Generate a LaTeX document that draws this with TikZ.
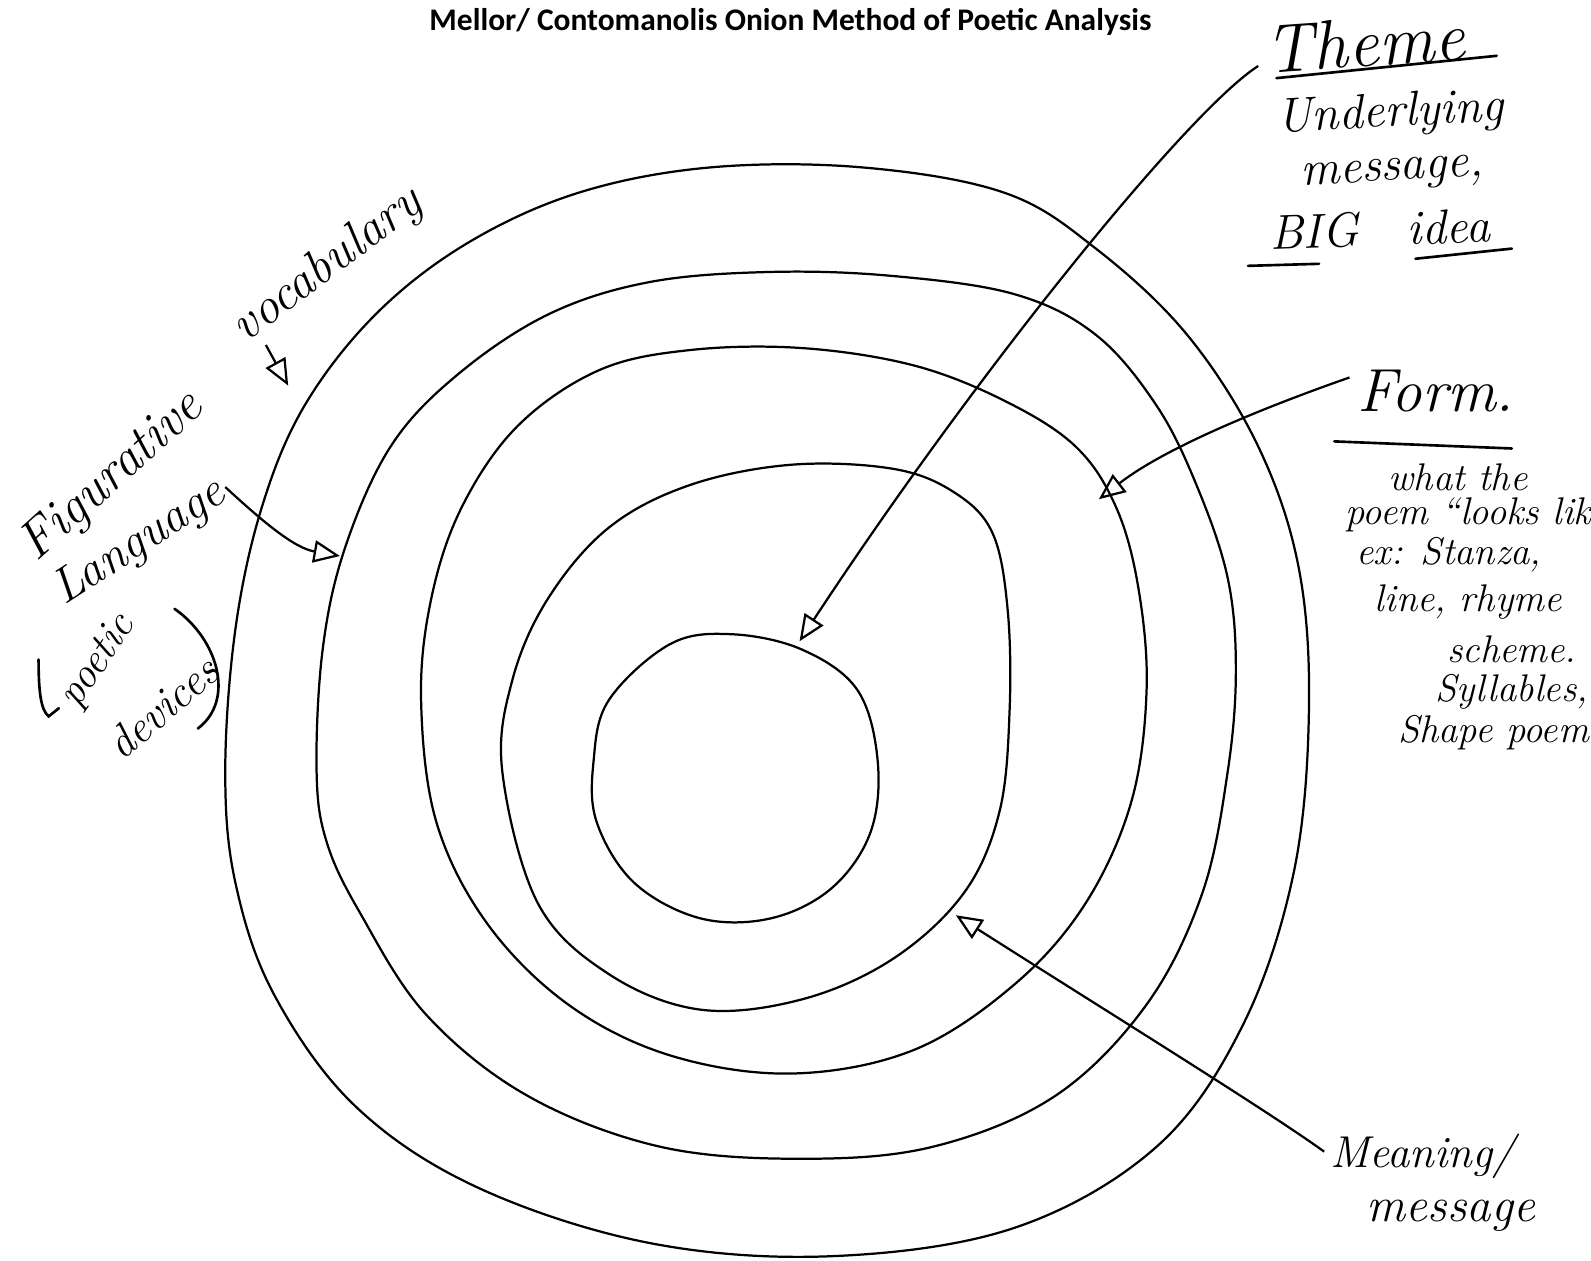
\documentclass[tikz,border=0pt]{standalone}
\usepackage{fontspec}
\newfontfamily\titlefont{Carlito}
\usetikzlibrary{arrows.meta}
\newcommand{\hsz}[1]{\fontsize{#1}{#1}\selectfont}
\begin{document}
\begin{tikzpicture}[x=0.5pt,y=-0.5pt,
  ring/.style={line width=1.1pt, line join=round},
  hand/.style={font=\itshape, inner sep=0pt, anchor=center},
  pointer/.style={line width=1.1pt, -{Triangle[open,length=13pt,width=11pt,line width=1.1pt]}},
  uline/.style={line width=1.3pt, line cap=round}]
\useasboundingbox[fill=white] (0,0) rectangle (1568,1242);

% title
\node[font=\titlefont\bfseries\fontsize{15.5}{15.5}\selectfont, inner sep=0pt] (title) at (779,22)
  {Mellor/ Contomanolis Onion Method of Poetic Analysis};

% rings
\draw[ring] plot[smooth cycle, tension=0.6] coordinates {
 (222,760) (232,620) (258,500) (300,400) (370,310) (460,240) (570,190) (700,165) (850,165)
 (990,190) (1080,245) (1170,330) (1240,440) (1280,560) (1290,700) (1275,860) (1225,1010)
 (1140,1130) (1000,1210) (820,1238) (640,1225) (470,1170) (350,1090) (270,980) (232,870)};
\draw[ring] plot[smooth cycle, tension=0.6] coordinates {
 (312,760) (318,640) (340,540) (385,440) (450,370) (540,310) (640,278) (760,268) (880,272)
 (1000,290) (1080,330) (1140,400) (1180,480) (1210,570) (1218,660) (1210,760) (1185,880)
 (1130,990) (1040,1080) (920,1130) (790,1142) (650,1130) (520,1080) (420,1000) (355,900) (322,830)};
\draw[ring] plot[smooth cycle, tension=0.6] coordinates {
 (415,690) (425,590) (455,500) (510,420) (590,365) (680,345) (790,343) (900,360) (990,395)
 (1060,440) (1100,500) (1122,580) (1130,680) (1115,790) (1070,890) (1000,970) (900,1035)
 (780,1058) (660,1040) (560,990) (480,910) (430,810)};
\draw[ring] plot[smooth cycle, tension=0.6] coordinates {
 (495,760) (505,670) (540,590) (600,520) (680,478) (780,458) (880,462) (940,485)
 (978,525) (993,600) (995,700) (985,800) (950,880) (880,945) (790,985) (690,995) (600,960) (530,890)};
\draw[ring] plot[smooth cycle, tension=0.6] coordinates {
 (600,690) (660,635) (720,625) (790,640) (845,680) (865,750) (858,820) (820,875) (760,905)
 (690,905) (625,870) (588,810) (585,750)};

% arrow endpoints
\coordinate (themeS) at (1240,65);
\coordinate (themeT) at (788,632);
\coordinate (formS) at (1330,372);
\coordinate (formT) at (1083,492);
\coordinate (figS) at (222,480);
\coordinate (figT) at (335,548);
\coordinate (vocS) at (262,340);
\coordinate (vocT) at (284,380);
\coordinate (meanS) at (1305,1135);
\coordinate (meanT) at (942,902);

\draw[pointer] (themeS) .. controls (1170,110) and (960,370) .. (themeT);
\draw[pointer] (formS) .. controls (1250,400) and (1150,440) .. (formT);
\draw[pointer] (figS) .. controls (260,515) and (290,540) .. (figT);
\draw[pointer] (vocS) -- (vocT);
\draw[pointer] (meanS) .. controls (1250,1095) and (1080,990) .. (meanT);

% Theme block
\node[hand, rotate=4] (theme) at (1345,42) {\hsz{34}Theme};
\draw[uline] (1258,77) -- (1475,55);
\node[hand, rotate=3] (under) at (1370,113) {\hsz{24}Underlying};
\node[hand, rotate=3] (msg1) at (1372,172) {\hsz{24}message,};
\node[hand, rotate=2] (big) at (1360,226) {\hsz{24}BIG\quad idea};
\draw[uline] (1230,262) -- (1300,260);
\draw[uline] (1395,255) -- (1490,245);

% Form block
\node[hand] (form) at (1415,385) {\hsz{30}Form.};
\draw[uline] (1315,435) -- (1490,442);
\node[hand] (f1) at (1437,470) {\hsz{19}what the};
\node[hand] (f2) at (1447,507) {\hsz{19}poem ``looks lik};
\node[hand] (f3) at (1428,547) {\hsz{19}ex: Stanza,};
\node[hand] (f4) at (1447,593) {\hsz{19}line, rhyme};
\node[hand] (f5) at (1490,640) {\hsz{19}scheme.};
\node[hand] (f6) at (1490,682) {\hsz{19}Syllables,};
\node[hand] (f7) at (1472,722) {\hsz{19}Shape poem};

% Meaning
\node[hand] (mean) at (1402,1140) {\hsz{22}Meaning/};
\node[hand] (msg2) at (1430,1198) {\hsz{24}message};

% left side
\node[hand, rotate=37] (voc) at (323,262) {\hsz{25}vocabulary};
\node[hand, rotate=42] (fig) at (111,470) {\hsz{26}Figurative};
\node[hand, rotate=33] (lang) at (138,535) {\hsz{24}Language};
\node[hand, rotate=56] (poet) at (97,652) {\hsz{21}poetic};
\node[hand, rotate=41] (dev) at (160,697) {\hsz{22}devices};
\draw[uline] (38,650) .. controls (38,680) and (40,700) .. (48,706) -- (58,698);
\draw[uline] (172,600) .. controls (215,630) and (232,690) .. (195,718);
\end{tikzpicture}
\end{document}
